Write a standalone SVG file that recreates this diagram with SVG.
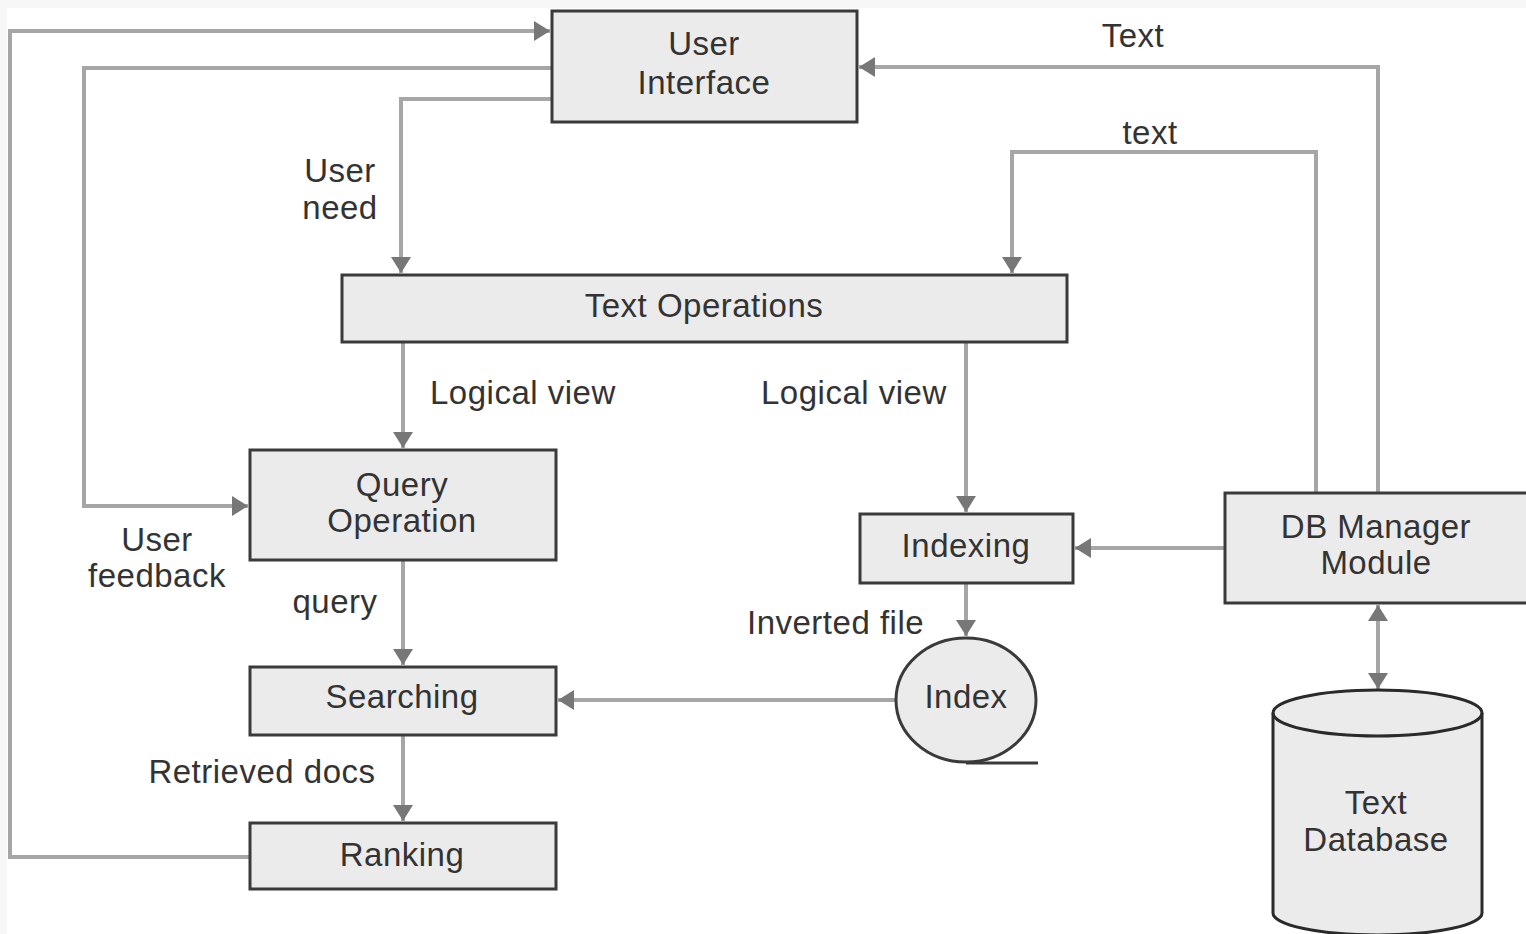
<svg xmlns="http://www.w3.org/2000/svg" width="1526" height="934" viewBox="0 0 1526 934">
<style>
.box{fill:#ebebeb;stroke:#3a3a3a;stroke-width:3}
.ln{fill:none;stroke:#a6a6a6;stroke-width:4}
.t{font-family:"Liberation Sans",Arial,sans-serif;font-size:33px;fill:#333;text-anchor:middle;letter-spacing:0.5px}
.ts{font-family:"Liberation Sans",Arial,sans-serif;font-size:33px;fill:#333;letter-spacing:0.5px}
</style>
<defs>
<marker id="ah" viewBox="0 0 16 20" refX="16" refY="10" markerWidth="16" markerHeight="20" markerUnits="userSpaceOnUse" orient="auto-start-reverse">
<path d="M0,0 L16,10 L0,20 Z" fill="#777"/>
</marker>
</defs>
<rect width="1526" height="934" fill="#f7f7f7"/>
<rect x="7" y="8" width="1519" height="926" fill="#fff"/>

<g id="connectors">
<polyline class="ln" points="250,857 10,857 10,31 550,31" marker-end="url(#ah)"/>
<polyline class="ln" points="552,68 84,68 84,506 248,506" marker-end="url(#ah)"/>
<polyline class="ln" points="552,99 401,99 401,273" marker-end="url(#ah)"/>
<line class="ln" x1="403" y1="342" x2="403" y2="448" marker-end="url(#ah)"/>
<line class="ln" x1="966" y1="342" x2="966" y2="512" marker-end="url(#ah)"/>
<line class="ln" x1="403" y1="560" x2="403" y2="665" marker-end="url(#ah)"/>
<line class="ln" x1="403" y1="735" x2="403" y2="821" marker-end="url(#ah)"/>
<line class="ln" x1="896" y1="700" x2="558" y2="700" marker-end="url(#ah)"/>
<line class="ln" x1="966" y1="583" x2="966" y2="636" marker-end="url(#ah)"/>
<line class="ln" x1="1225" y1="548" x2="1075" y2="548" marker-end="url(#ah)"/>
<polyline class="ln" points="1378,493 1378,67 859,67" marker-end="url(#ah)"/>
<polyline class="ln" points="1316,493 1316,152 1012,152 1012,273" marker-end="url(#ah)"/>
<line class="ln" x1="1378" y1="605" x2="1378" y2="689" marker-start="url(#ah)" marker-end="url(#ah)"/>
</g>

<g id="labels">
<text class="t" x="1133" y="47">Text</text>
<text class="t" x="1150" y="144">text</text>
<text class="t" x="340" y="182">User</text>
<text class="t" x="340" y="219">need</text>
<text class="ts" x="430" y="404">Logical view</text>
<text class="ts" x="761" y="404">Logical view</text>
<text class="t" x="157" y="551">User</text>
<text class="t" x="157" y="587">feedback</text>
<text class="t" x="335" y="613">query</text>
<text class="ts" x="747" y="634">Inverted file</text>
<text class="t" x="262" y="783">Retrieved docs</text>
</g>

<g id="user-interface">
<rect class="box" x="552" y="11" width="305" height="111"/>
<text class="t" x="704" y="55">User</text>
<text class="t" x="704" y="94">Interface</text>
</g>

<g id="text-operations">
<rect class="box" x="342" y="275" width="725" height="67"/>
<text class="t" x="704" y="317">Text Operations</text>
</g>

<g id="query-operation">
<rect class="box" x="250" y="450" width="306" height="110"/>
<text class="t" x="402" y="496">Query</text>
<text class="t" x="402" y="532">Operation</text>
</g>

<g id="searching">
<rect class="box" x="250" y="667" width="306" height="68"/>
<text class="t" x="402" y="708">Searching</text>
</g>

<g id="ranking">
<rect class="box" x="250" y="823" width="306" height="66"/>
<text class="t" x="402" y="866">Ranking</text>
</g>

<g id="indexing">
<rect class="box" x="860" y="514" width="213" height="69"/>
<text class="t" x="966" y="557">Indexing</text>
</g>

<g id="index">
<ellipse cx="966" cy="700" rx="70" ry="62" fill="#ebebeb" stroke="#3a3a3a" stroke-width="3"/>
<line x1="966" y1="763" x2="1038" y2="763" stroke="#3a3a3a" stroke-width="3"/>
<text class="t" x="966" y="708">Index</text>
</g>

<g id="db-manager">
<rect class="box" x="1225" y="493" width="310" height="110"/>
<text class="t" x="1376" y="538">DB Manager</text>
<text class="t" x="1376" y="574">Module</text>
</g>

<g id="text-database">
<path d="M1273,713 L1273,913 A104.5,22 0 0 0 1482,913 L1482,713 A104.5,23 0 0 0 1273,713 Z" fill="#ebebeb" stroke="#2a2a2a" stroke-width="3"/>
<path d="M1273,713 A104.5,23 0 0 0 1482,713" fill="none" stroke="#2a2a2a" stroke-width="3"/>
<text class="t" x="1376" y="814">Text</text>
<text class="t" x="1376" y="851">Database</text>
</g>
</svg>
